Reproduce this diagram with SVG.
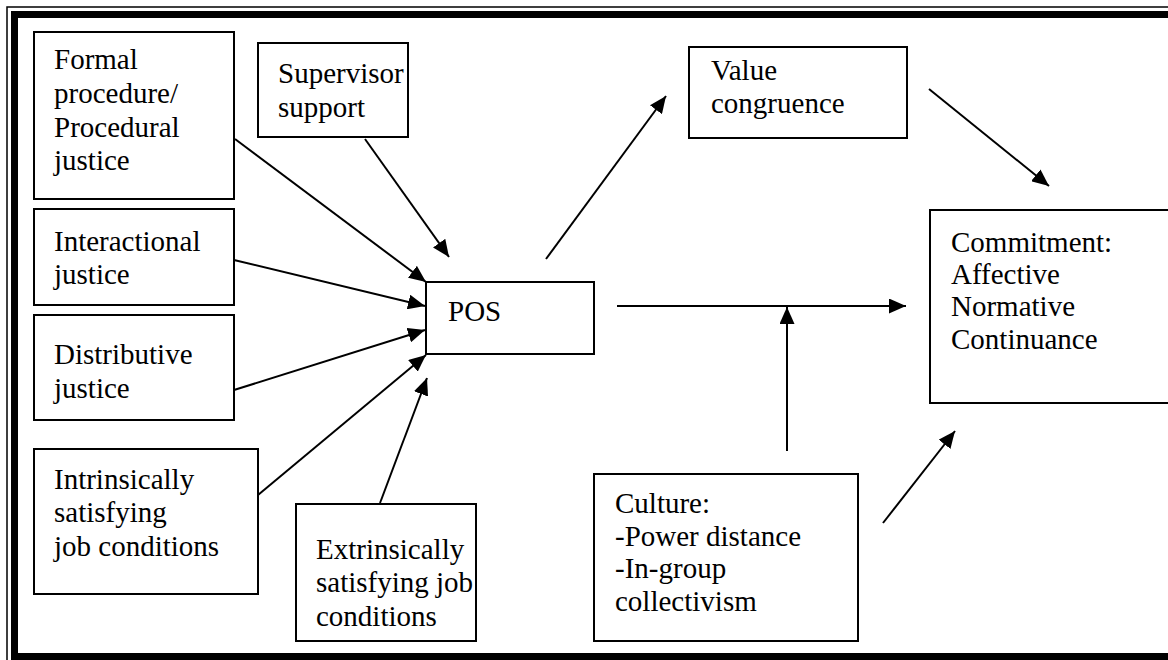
<svg xmlns="http://www.w3.org/2000/svg" width="1168" height="660" viewBox="0 0 1168 660">
<style>
.box{fill:#fff;stroke:#000;stroke-width:2}
.t{font-family:"Liberation Serif","Times New Roman",serif;font-size:29px;fill:#000}
.c{stroke:#000;stroke-width:2;fill:none;marker-end:url(#ah)}
</style>
<defs>
<marker id="ah" markerUnits="userSpaceOnUse" markerWidth="17" markerHeight="15" refX="17" refY="7.5" orient="auto">
<path d="M0,0 L17,7.5 L0,15 z" fill="#000"/>
</marker>
</defs>
<rect x="0" y="0" width="1168" height="660" fill="#fff"/>
<g id="frame">
<rect x="7" y="7" width="1175" height="670" fill="none" stroke="#000" stroke-width="1.5"/>
<rect x="14.5" y="14.5" width="1170" height="642" fill="none" stroke="#000" stroke-width="7"/>
</g>
<g id="formal"><rect class="box" x="34" y="32" width="200" height="167"/>
<text class="t" x="54" y="69">Formal</text><text class="t" x="54" y="103">procedure/</text><text class="t" x="54" y="137">Procedural</text><text class="t" x="54" y="170">justice</text></g>
<g id="supervisor"><rect class="box" x="258" y="43" width="150" height="94"/>
<text class="t" x="278" y="83">Supervisor</text><text class="t" x="278" y="117">support</text></g>
<g id="interactional"><rect class="box" x="34" y="209" width="200" height="96"/>
<text class="t" x="54" y="251">Interactional</text><text class="t" x="54" y="284">justice</text></g>
<g id="distributive"><rect class="box" x="34" y="315" width="200" height="105"/>
<text class="t" x="54" y="364">Distributive</text><text class="t" x="54" y="398">justice</text></g>
<g id="intrinsic"><rect class="box" x="34" y="449" width="224" height="145"/>
<text class="t" x="54" y="489">Intrinsically</text><text class="t" x="54" y="522">satisfying</text><text class="t" x="54" y="556">job conditions</text></g>
<g id="extrinsic"><rect class="box" x="296" y="504" width="180" height="137"/>
<text class="t" x="316" y="559">Extrinsically</text><text class="t" x="316" y="592">satisfying job</text><text class="t" x="316" y="626">conditions</text></g>
<g id="pos"><rect class="box" x="426" y="282" width="168" height="72"/>
<text class="t" x="448" y="321">POS</text></g>
<g id="value"><rect class="box" x="689" y="47" width="218" height="91"/>
<text class="t" x="711" y="80">Value</text><text class="t" x="711" y="113">congruence</text></g>
<g id="commitment"><rect class="box" x="930" y="210" width="250" height="193"/>
<text class="t" x="951" y="252">Commitment:</text><text class="t" x="951" y="284">Affective</text><text class="t" x="951" y="316">Normative</text><text class="t" x="951" y="349">Continuance</text></g>
<g id="culture"><rect class="box" x="594" y="474" width="264" height="167"/>
<text class="t" x="615" y="513">Culture:</text><text class="t" x="615" y="546">-Power distance</text><text class="t" x="615" y="578">-In-group</text><text class="t" x="615" y="611">collectivism</text></g>
<g id="connectors">
<line class="c" x1="235" y1="139" x2="426" y2="282"/>
<line class="c" x1="365" y1="139" x2="449" y2="257"/>
<line class="c" x1="234" y1="260" x2="425" y2="306"/>
<line class="c" x1="234" y1="390" x2="425" y2="330"/>
<line class="c" x1="258" y1="495" x2="426" y2="355"/>
<line class="c" x1="380" y1="503" x2="427" y2="378"/>
<line class="c" x1="546" y1="259" x2="666" y2="96"/>
<line class="c" x1="929" y1="89" x2="1049" y2="186"/>
<line class="c" x1="617" y1="306" x2="906" y2="306"/>
<line class="c" x1="787" y1="451" x2="787" y2="307"/>
<line class="c" x1="883" y1="523" x2="955" y2="431"/>
</g>
</svg>
